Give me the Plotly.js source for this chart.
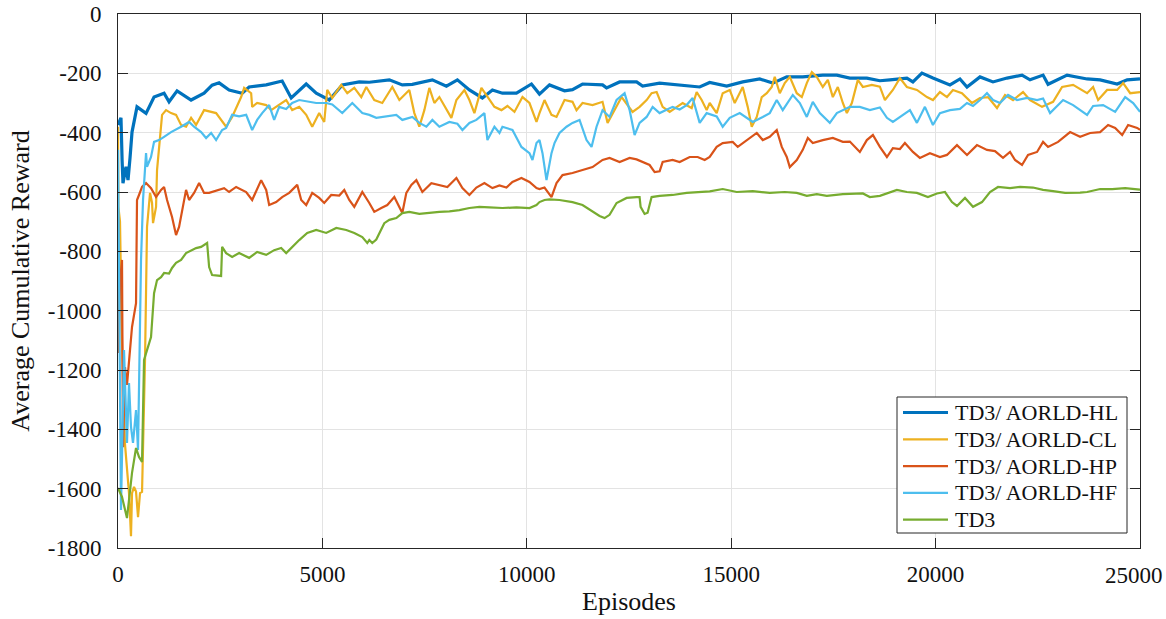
<!DOCTYPE html>
<html>
<head>
<meta charset="utf-8">
<script src="https://cdn.plot.ly/plotly-3.0.1.min.js"></script>
<style>html,body{margin:0;padding:0;background:#fff;}#chart{width:1166px;height:619px;}</style>
</head>
<body>
<div id="chart"></div>
<script>
const seriesNames = ["TD3/ AORLD-HL", "TD3/ AORLD-CL", "TD3/ AORLD-HP", "TD3/ AORLD-HF", "TD3"];
const xTickVals = [0, 5000, 10000, 15000, 20000, 25000];
const xTickText = ["0", "5000", "10000", "15000", "20000", "25000"];
const yTickVals = [0, -200, -400, -600, -800, -1000, -1200, -1400, -1600, -1800];
const yTickText = ["0", "-200", "-400", "-600", "-800", "-1000", "-1200", "-1400", "-1600", "-1800"];

// [episode, average cumulative reward]
const HL = [[0,-374],[73,-350],[100,-492],[122,-570],[196,-515],[245,-560],[294,-485],[343,-398],[465,-313],[686,-335],
[882,-280],[1127,-267],[1249,-296],[1445,-259],[1788,-290],[2106,-267],[2302,-240],[2473,-232],[2718,-256],[3037,-267],
[3208,-246],[3625,-239],[4016,-226],[4237,-283],[4604,-236],[4849,-267],[5167,-290],[5486,-239],[5902,-229],[6147,-230],
[6637,-222],[6955,-239],[7200,-237],[7690,-222],[8033,-243],[8302,-222],[8596,-256],[8914,-283],[9159,-256],[9404,-267],
[9747,-267],[10114,-236],[10310,-270],[10555,-239],[10923,-259],[11118,-255],[11363,-236],[11853,-239],[11951,-249],[12270,-229],
[12686,-229],[12833,-243],[13249,-233],[13739,-239],[14229,-246],[14474,-231],[14890,-243],[15282,-229],[15698,-219],[16017,-233],
[16359,-212],[16751,-212],[17241,-206],[17584,-206],[17902,-216],[18318,-216],[18637,-225],[18882,-222],[19298,-216],[19445,-229],
[19665,-199],[19935,-216],[20351,-239],[20596,-219],[20768,-246],[21086,-212],[21404,-229],[21747,-216],[22114,-206],[22310,-222],
[22629,-206],[22751,-237],[23216,-206],[23706,-219],[24025,-222],[24441,-236],[24686,-222],[25000,-219]];

const CL = [[0,-380],[10,-650],[49,-700],[98,-1100],[171,-1450],[269,-1615],[318,-1760],[343,-1615],[392,-1594],[441,-1610],
[490,-1696],[539,-1615],[588,-1611],[661,-1166],[710,-718],[784,-603],[833,-637],[857,-705],[931,-650],[955,-526],
[1029,-414],[1078,-340],[1176,-324],[1298,-334],[1420,-340],[1543,-374],[1665,-380],[1788,-350],[1910,-374],[2033,-340],
[2106,-324],[2400,-334],[2645,-380],[2792,-347],[3012,-280],[3086,-249],[3257,-267],[3282,-313],[3404,-300],[3625,-307],
[3747,-324],[4114,-290],[4261,-324],[4433,-313],[4604,-340],[4751,-380],[4922,-334],[5045,-364],[5118,-256],[5241,-283],
[5461,-239],[5608,-267],[5780,-249],[5951,-280],[6074,-246],[6269,-290],[6465,-300],[6710,-246],[6882,-290],[7126,-256],
[7249,-334],[7371,-380],[7494,-324],[7616,-249],[7739,-300],[7861,-280],[8033,-324],[8155,-350],[8278,-290],[8474,-256],
[8596,-290],[8718,-334],[8890,-249],[9037,-280],[9208,-313],[9380,-324],[9527,-310],[9698,-330],[9894,-280],[10065,-300],
[10237,-364],[10310,-334],[10433,-290],[10604,-340],[10727,-347],[10923,-290],[11118,-296],[11216,-324],[11363,-300],[11608,-307],
[11853,-296],[11976,-367],[12147,-324],[12319,-280],[12588,-330],[12759,-313],[12931,-290],[13053,-267],[13176,-263],[13323,-313],
[13494,-330],[13812,-300],[14033,-317],[14155,-263],[14278,-290],[14400,-324],[14474,-300],[14645,-334],[14792,-267],[14964,-256],
[15086,-300],[15282,-246],[15404,-313],[15502,-380],[15625,-347],[15747,-280],[15870,-267],[15992,-246],[16065,-212],[16188,-267],
[16310,-233],[16433,-212],[16604,-267],[16727,-280],[16849,-233],[16972,-196],[17094,-212],[17241,-246],[17364,-222],[17486,-280],
[17608,-246],[17731,-300],[17829,-334],[17951,-300],[18098,-222],[18221,-246],[18441,-239],[18637,-245],[18760,-290],[18955,-256],
[19127,-216],[19298,-246],[19543,-256],[19788,-280],[19935,-290],[20106,-263],[20278,-280],[20425,-256],[20645,-267],[20890,-300],
[21086,-283],[21282,-280],[21502,-317],[21698,-273],[21894,-290],[22139,-263],[22310,-290],[22604,-313],[22874,-296],[23094,-246],
[23364,-239],[23706,-267],[23853,-246],[23976,-290],[24196,-256],[24441,-256],[24588,-233],[24760,-267],[25000,-263]];

const HP = [[0,-684],[20,-1143],[50,-900],[98,-829],[122,-1460],[171,-1190],[220,-1250],[269,-1166],[343,-1055],[441,-975],
[465,-627],[514,-610],[588,-583],[686,-570],[808,-587],[931,-617],[1053,-593],[1127,-583],[1200,-627],[1322,-684],
[1420,-745],[1494,-718],[1567,-661],[1665,-593],[1739,-627],[1861,-603],[1984,-570],[2106,-603],[2229,-603],[2596,-587],
[2718,-600],[2890,-583],[3135,-600],[3282,-627],[3502,-560],[3625,-593],[3698,-644],[3869,-634],[4016,-617],[4188,-603],
[4384,-576],[4482,-627],[4604,-644],[4751,-603],[4922,-620],[5045,-637],[5216,-610],[5412,-612],[5535,-593],[5657,-627],
[5780,-650],[5976,-600],[6147,-637],[6269,-667],[6441,-654],[6588,-644],[6759,-617],[6882,-650],[6955,-671],[7053,-603],
[7176,-576],[7298,-560],[7445,-600],[7665,-570],[7861,-576],[8057,-583],[8278,-553],[8425,-587],[8596,-610],[8767,-585],
[8963,-570],[9159,-587],[9331,-578],[9502,-585],[9649,-566],[9869,-553],[10065,-566],[10237,-587],[10310,-590],[10433,-585],
[10604,-617],[10727,-570],[10874,-543],[11118,-536],[11363,-526],[11608,-516],[11853,-492],[12025,-485],[12270,-499],[12515,-485],
[12686,-490],[12833,-499],[13004,-509],[13127,-533],[13249,-530],[13323,-499],[13567,-492],[13739,-499],[13984,-482],[14180,-482],
[14351,-492],[14474,-482],[14645,-448],[14792,-435],[15037,-431],[15160,-448],[15380,-425],[15625,-401],[15772,-425],[15943,-414],
[16114,-391],[16237,-448],[16359,-482],[16433,-516],[16604,-492],[16751,-458],[16874,-418],[16996,-435],[17241,-425],[17486,-418],
[17731,-431],[17902,-430],[18147,-465],[18318,-425],[18466,-408],[18637,-448],[18809,-482],[18955,-452],[19127,-455],[19249,-435],
[19445,-465],[19616,-485],[19861,-469],[20106,-482],[20278,-475],[20523,-442],[20768,-475],[21012,-442],[21257,-458],[21453,-462],
[21649,-485],[21821,-465],[21943,-492],[22114,-509],[22261,-475],[22482,-465],[22629,-431],[22751,-448],[22996,-431],[23290,-398],
[23535,-414],[23780,-401],[24025,-398],[24220,-374],[24392,-384],[24564,-408],[24710,-374],[24931,-384],[25000,-390]];

const HF = [[0,-458],[73,-1672],[147,-1133],[220,-1446],[269,-1244],[318,-1392],[367,-1446],[441,-1335],[490,-1470],[563,-829],
[612,-627],[686,-469],[710,-515],[808,-482],[882,-431],[1004,-425],[1127,-414],[1298,-398],[1543,-380],[1739,-364],
[1861,-380],[2033,-398],[2155,-418],[2278,-401],[2400,-425],[2547,-391],[2645,-384],[2792,-340],[2963,-345],[3135,-340],
[3282,-391],[3404,-357],[3527,-334],[3698,-307],[3820,-357],[3943,-313],[4114,-320],[4261,-300],[4433,-290],[4604,-295],
[4849,-300],[5094,-300],[5241,-305],[5486,-334],[5731,-300],[5976,-334],[6147,-340],[6318,-350],[6563,-345],[6808,-340],
[6955,-357],[7200,-347],[7371,-367],[7543,-380],[7690,-357],[7861,-380],[8106,-364],[8302,-370],[8425,-391],[8596,-367],
[8767,-357],[8963,-334],[9037,-425],[9208,-380],[9331,-401],[9404,-380],[9649,-391],[9869,-448],[10065,-469],[10139,-492],
[10237,-435],[10310,-425],[10384,-469],[10482,-560],[10604,-469],[10678,-435],[10800,-401],[10972,-380],[11118,-367],[11290,-357],
[11461,-425],[11584,-448],[11706,-380],[11853,-324],[12025,-347],[12196,-290],[12392,-267],[12515,-324],[12637,-408],[12759,-367],
[12931,-347],[13078,-313],[13249,-334],[13421,-324],[13567,-313],[13739,-322],[13910,-307],[14057,-283],[14229,-367],[14400,-334],
[14645,-345],[14792,-380],[14964,-350],[15209,-334],[15380,-350],[15527,-364],[15772,-347],[15943,-334],[16114,-290],[16261,-324],
[16506,-273],[16678,-300],[16849,-347],[16996,-296],[17168,-334],[17412,-367],[17584,-334],[17731,-324],[17902,-313],[18147,-313],
[18392,-324],[18637,-315],[18809,-350],[18955,-364],[19200,-340],[19372,-324],[19543,-367],[19739,-313],[19935,-374],[20106,-334],
[20351,-324],[20596,-320],[20768,-300],[20915,-310],[21086,-290],[21257,-267],[21404,-290],[21576,-300],[21772,-273],[21992,-290],
[22237,-283],[22482,-290],[22629,-285],[22800,-334],[23119,-290],[23364,-307],[23706,-340],[23853,-310],[24098,-307],[24392,-330],
[24637,-280],[24833,-300],[25000,-330]];

const TD3 = [[0,-1598],[98,-1628],[220,-1699],[269,-1628],[343,-1547],[441,-1463],[514,-1493],[588,-1510],[637,-1166],[710,-1133],
[808,-1089],[882,-941],[955,-897],[1053,-887],[1127,-873],[1249,-875],[1322,-856],[1420,-839],[1543,-829],[1665,-806],
[1788,-796],[1910,-789],[2033,-785],[2180,-772],[2229,-853],[2302,-880],[2522,-883],[2547,-785],[2645,-806],[2792,-819],
[2963,-806],[3208,-822],[3404,-802],[3625,-812],[3820,-796],[3992,-789],[4114,-806],[4261,-785],[4433,-762],[4629,-738],
[4849,-728],[5094,-738],[5339,-721],[5584,-728],[5780,-738],[5976,-752],[6098,-772],[6147,-762],[6220,-772],[6318,-760],
[6392,-738],[6514,-705],[6637,-694],[6808,-688],[6955,-671],[7126,-667],[7371,-674],[7616,-670],[7861,-667],[8106,-665],
[8351,-661],[8596,-654],[8841,-650],[9086,-652],[9404,-654],[9747,-652],[10065,-654],[10237,-644],[10310,-634],[10433,-627],
[10555,-625],[10800,-627],[11118,-634],[11363,-644],[11608,-667],[11780,-681],[11902,-688],[12025,-677],[12196,-637],[12441,-620],
[12686,-617],[12759,-617],[12784,-650],[12882,-674],[12955,-670],[13053,-617],[13249,-613],[13567,-610],[13910,-603],[14229,-600],
[14474,-598],[14792,-590],[15135,-600],[15527,-597],[15943,-603],[16310,-600],[16604,-603],[16849,-613],[17094,-607],[17339,-613],
[17731,-607],[18221,-605],[18392,-617],[18637,-613],[19053,-593],[19298,-600],[19543,-603],[19812,-617],[20033,-605],[20229,-600],
[20400,-634],[20523,-647],[20719,-620],[20915,-650],[21135,-634],[21331,-600],[21527,-583],[21821,-587],[22065,-583],[22384,-585],
[22629,-593],[22874,-597],[23168,-603],[23535,-602],[23706,-600],[24025,-590],[24319,-590],[24637,-587],[24931,-590],[25000,-592]];

const seriesData = [HL, CL, HP, HF, TD3];
const seriesColors = ["#0072BD", "#EDB120", "#D95319", "#4DBEEE", "#77AC30"];
const seriesWidths = [3.2, 2.2, 2.2, 2.2, 2.2];

const FONT = "Liberation Serif, Times New Roman, serif";
const TICK_SIZE = 23;
const W = 1166, H = 619;
const M = {l: 118, r: 26, t: 14, b: 71};
const PW = W - M.l - M.r, PH = H - M.t - M.b;
const px2x = px => (px - M.l) / PW;
const py2y = py => (H - M.b - py) / PH;

const traces = seriesData.map((d, i) => ({
  type: "scatter", mode: "lines", name: seriesNames[i], showlegend: false,
  x: d.map(p => p[0]), y: d.map(p => p[1]),
  line: {color: seriesColors[i], width: seriesWidths[i]}
}));

// legend drawn as shapes + annotations to match the reference box geometry
const LEG = {left: 897, right: 1127, top: 397, bottom: 533, lineX0: 903, lineX1: 948, textX: 953, row0: 412.5, rowStep: 26.8};
const shapes = [{
  type: "rect", xref: "paper", yref: "paper",
  x0: px2x(LEG.left), x1: px2x(LEG.right), y0: py2y(LEG.bottom), y1: py2y(LEG.top),
  line: {color: "#262626", width: 1}, fillcolor: "#fff", layer: "above"
}];
const annotations = [];
seriesNames.forEach((n, i) => {
  const yy = py2y(LEG.row0 + i * LEG.rowStep);
  shapes.push({type: "line", xref: "paper", yref: "paper",
    x0: px2x(LEG.lineX0), x1: px2x(LEG.lineX1), y0: yy, y1: yy,
    line: {color: seriesColors[i], width: seriesWidths[i]}, layer: "above"});
  annotations.push({xref: "paper", yref: "paper", x: px2x(LEG.textX), y: yy,
    xanchor: "left", yanchor: "middle", showarrow: false, text: n,
    font: {family: FONT, size: 22, color: "#111"}});
});
// last x tick label is nudged inward (as in the reference) so it stays inside the figure
const lastTick = xTickVals.length - 1;
annotations.push({xref: "x", yref: "paper", x: xTickVals[lastTick], y: 0,
  xanchor: "center", yanchor: "top", xshift: -6, yshift: -13, showarrow: false,
  text: xTickText[lastTick], font: {family: FONT, size: TICK_SIZE, color: "#111"}});
const xTickTextShown = xTickText.map((t, i) => i === lastTick ? "" : t);

const axisCommon = {
  showgrid: true, gridcolor: "#e3e3e3", gridwidth: 1,
  showline: true, linecolor: "#262626", linewidth: 1, mirror: "ticks",
  ticks: "inside", ticklen: 10, tickcolor: "#262626", tickwidth: 1,
  zeroline: false, tickfont: {family: FONT, size: TICK_SIZE, color: "#111"},
  tickmode: "array"
};
const layout = {
  width: W, height: H,
  margin: M,
  paper_bgcolor: "#fff", plot_bgcolor: "#fff",
  font: {family: FONT, color: "#111"},
  showlegend: false,
  xaxis: Object.assign({}, axisCommon, {
    range: [0, 25000], tickvals: xTickVals, ticktext: xTickTextShown,
    ticklabelstandoff: 5,
    title: {text: "Episodes", font: {family: FONT, size: 26, color: "#111"}, standoff: 6}
  }),
  yaxis: Object.assign({}, axisCommon, {
    range: [-1800, 0], tickvals: yTickVals, ticktext: yTickText,
    ticklabelstandoff: 11,
    title: {text: "Average Cumulative Reward", font: {family: FONT, size: 26, color: "#111"}, standoff: 10}
  }),
  shapes: shapes,
  annotations: annotations
};
Plotly.newPlot("chart", traces, layout, {displayModeBar: false, staticPlot: true});
</script>
</body>
</html>
